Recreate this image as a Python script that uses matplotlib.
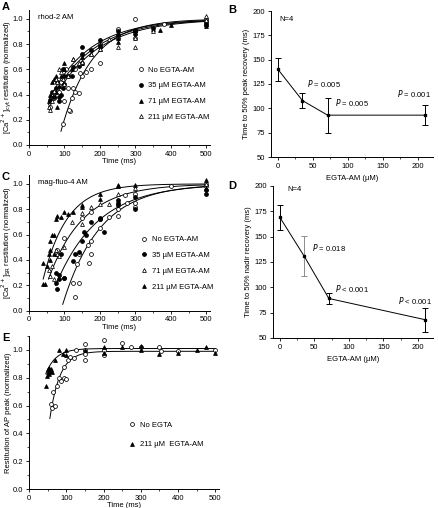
import numpy as np
import matplotlib
matplotlib.use("Agg")
import matplotlib.pyplot as plt
from matplotlib.ticker import MultipleLocator

plt.rcParams['font.family'] = ['Liberation Sans', 'DejaVu Sans']
FS = 5.5
plt.rcParams['font.size'] = FS

# ---- Panel A: rhod-2 AM, [Ca2+]cyt restitution ----
a_none_t = [95, 115, 112, 120, 125, 130, 140, 150, 145, 160, 175, 200, 250, 250, 300, 300, 300, 380, 500, 500,
            100, 90, 85, 105, 150, 200, 70, 60, 110, 130]
a_none_y = [0.17, 0.27, 0.28, 0.37, 0.45, 0.42, 0.41, 0.55, 0.57, 0.58, 0.60, 0.65, 0.92, 0.85, 1.00, 0.90, 0.85, 0.96, 1.00, 0.98,
            0.35, 0.50, 0.42, 0.60, 0.65, 0.80, 0.37, 0.30, 0.45, 0.60]
a_35_t = [60, 65, 75, 80, 85, 85, 90, 95, 100, 100, 110, 120, 125, 140, 150, 150, 175, 200, 200, 250, 250, 300, 300, 350, 500, 500, 70, 95]
a_35_y = [0.36, 0.42, 0.45, 0.50, 0.38, 0.35, 0.40, 0.45, 0.55, 0.48, 0.55, 0.55, 0.62, 0.63, 0.78, 0.72, 0.75, 0.83, 0.78, 0.87, 0.90, 0.88, 0.90, 0.93, 0.95, 0.97, 0.38, 0.60]
a_71_t = [55, 60, 65, 70, 75, 80, 85, 90, 100, 100, 120, 125, 150, 150, 175, 200, 200, 250, 250, 300, 350, 370, 400, 500, 500, 75]
a_71_y = [0.35, 0.40, 0.50, 0.52, 0.55, 0.30, 0.47, 0.55, 0.65, 0.60, 0.60, 0.68, 0.70, 0.65, 0.72, 0.80, 0.76, 0.85, 0.82, 0.91, 0.92, 0.91, 0.95, 0.96, 0.94, 0.42]
a_211_t = [55, 60, 65, 70, 75, 80, 90, 95, 100, 110, 125, 140, 150, 175, 200, 225, 250, 300, 300, 350, 500, 500, 85]
a_211_y = [0.30, 0.28, 0.35, 0.43, 0.52, 0.50, 0.58, 0.52, 0.48, 0.55, 0.68, 0.65, 0.66, 0.72, 0.76, 0.84, 0.78, 0.78, 0.85, 0.90, 1.02, 0.99, 0.60]
# fit parameters (start time, t0, tau)
a_fits = [(90, 80, 87), (58, 5, 115), (55, 9, 120), (55, 13, 125)]

# ---- Panel B ----
b_conc = [0, 35, 71, 211]
b_time = [140, 108, 93, 93]
b_err = [12, 8, 18, 10]
b_pvals = ["= 0.005", "= 0.005", "= 0.001"]

# ---- Panel C: mag-fluo-4 AM, [Ca2+]SR restitution ----
c_none_t = [130, 125, 140, 135, 140, 165, 170, 175, 175, 200, 200, 225, 250, 250, 275, 300, 300, 300, 500, 500,
            100, 75, 80, 150, 175, 270, 400, 100]
c_none_y = [0.11, 0.22, 0.22, 0.37, 0.45, 0.52, 0.38, 0.45, 0.55, 0.65, 0.72, 0.74, 0.75, 0.80, 0.85, 0.85, 0.82, 0.92, 0.98, 1.00,
            0.57, 0.45, 0.48, 0.73, 0.78, 0.91, 0.98, 0.26]
c_35_t = [75, 80, 85, 85, 100, 125, 130, 140, 150, 155, 160, 175, 200, 200, 210, 250, 250, 250, 300, 300, 500, 500, 75, 90]
c_35_y = [0.22, 0.17, 0.28, 0.25, 0.26, 0.39, 0.45, 0.46, 0.55, 0.62, 0.60, 0.70, 0.73, 0.72, 0.62, 0.85, 0.87, 0.83, 0.80, 0.90, 0.92, 0.95, 0.30, 0.45]
c_71_t = [60, 70, 65, 80, 75, 85, 100, 120, 150, 150, 175, 200, 225, 250, 300, 500, 55]
c_71_y = [0.27, 0.25, 0.35, 0.45, 0.48, 0.43, 0.50, 0.70, 0.77, 0.68, 0.82, 0.84, 0.84, 0.92, 0.97, 1.00, 0.32]
c_211_t = [40, 45, 40, 50, 55, 60, 60, 65, 70, 75, 80, 90, 100, 110, 125, 150, 150, 200, 200, 250, 250, 300, 500, 500, 60, 70]
c_211_y = [0.21, 0.21, 0.38, 0.35, 0.45, 0.48, 0.55, 0.60, 0.60, 0.72, 0.75, 0.74, 0.78, 0.76, 0.78, 0.83, 0.82, 0.92, 0.88, 0.98, 0.99, 0.99, 1.03, 0.97, 0.40, 0.45]
c_fits = [(95, 89.6, 105), (75, 48.5, 119), (55, 27, 97.6), (40, 20.6, 67.5)]

# ---- Panel D ----
d_conc = [0, 35, 71, 211]
d_time = [169, 131, 89, 68]
d_err = [12, 20, 5, 12]
d_pvals = ["= 0.018", "< 0.001", "< 0.001"]

# ---- Panel E: AP peak restitution ----
e_none_t = [60, 62, 70, 75, 80, 85, 95, 95, 100, 105, 110, 120, 125, 150, 150, 150, 200, 200, 200, 250, 275, 300, 350, 355, 400, 500, 150, 65]
e_none_y = [0.61, 0.58, 0.60, 0.74, 0.80, 0.78, 0.88, 0.80, 0.79, 0.93, 0.95, 0.94, 1.00, 1.04, 0.93, 0.97, 1.07, 0.96, 1.00, 1.05, 1.02, 1.02, 1.02, 0.99, 0.99, 1.00, 1.00, 0.70]
e_211_t = [45, 48, 50, 52, 55, 58, 60, 62, 70, 80, 90, 100, 100, 150, 200, 200, 250, 300, 300, 350, 400, 450, 475, 500, 55]
e_211_y = [0.74, 0.81, 0.84, 0.86, 0.87, 0.85, 0.86, 0.84, 0.93, 1.00, 0.97, 1.00, 0.96, 1.00, 1.02, 0.98, 1.02, 1.00, 1.03, 0.97, 0.98, 1.00, 1.02, 0.98, 0.83]
# (start, t0, tau, plateau)
e_fits = [(56, 36.6, 27, 0.99), (45, -1.8, 27.3, 1.01)]

W, H = 439, 508
fig = plt.figure(figsize=(W / 100, H / 100), dpi=100)


def px_axes(left, top, right, bottom):
    ax = fig.add_axes([left / W, 1 - bottom / H, (right - left) / W, (bottom - top) / H])
    ax.set_facecolor('none')
    return ax


def style(ax):
    for s in ['top', 'right']:
        ax.spines[s].set_visible(False)
    for s in ['left', 'bottom']:
        ax.spines[s].set_linewidth(0.7)
    ax.tick_params(direction='out', length=2.5, width=0.6, pad=1.5, labelsize=FS)
    ax.tick_params(which='minor', length=1.5, width=0.5)


def fit_curve(ax, start, t0, tau, plateau=1.0):
    t = np.linspace(start, 500, 200)
    ax.plot(t, plateau * (1 - np.exp(-(t - t0) / tau)), color='black', lw=0.7, zorder=1)


mk = dict(ms=2.8, mew=0.55, ls='none', zorder=3)
open_c = dict(marker='o', mfc='white', mec='black', **mk)
fill_c = dict(marker='o', mfc='black', mec='black', **mk)
fill_t = dict(marker='^', mfc='black', mec='black', **mk)
open_t = dict(marker='^', mfc='white', mec='black', **mk)


def time_axes(ax, ylabel, ymax, ylab_x):
    ax.set_xlim(0, 510)
    ax.xaxis.set_major_locator(MultipleLocator(100))
    ax.xaxis.set_minor_locator(MultipleLocator(50))
    ticks = np.arange(0, ymax, 0.2)
    ax.set_yticks(ticks)
    ax.set_yticklabels([f"{v:.1f}" for v in ticks])
    ax.yaxis.set_minor_locator(MultipleLocator(0.1))
    ax.set_ylim(0, ymax)
    ax.set_xlabel("Time (ms)", fontsize=FS, labelpad=0.5)
    ax.set_ylabel(ylabel, fontsize=FS)
    ax.yaxis.set_label_coords(ylab_x, 0.5)
    style(ax)


def trace_panel(ax, series, fits, ylabel, note):
    for f in fits:
        fit_curve(ax, *f)
    for t, y, st, lab in series:
        ax.plot(t, y, label=lab, **st)
    ax.text(0.05, 0.97, note, transform=ax.transAxes, fontsize=FS, va='top')
    time_axes(ax, ylabel, 1.07, -0.085)


# Panel A
axA = px_axes(29, 10, 210, 145)
trace_panel(axA, [(a_none_t, a_none_y, open_c, "No EGTA-AM"),
                  (a_35_t, a_35_y, fill_c, "35 \u00b5M EGTA-AM"),
                  (a_71_t, a_71_y, fill_t, "71 \u00b5M EGTA-AM"),
                  (a_211_t, a_211_y, open_t, "211 \u00b5M EGTA-AM")],
            a_fits, r"[Ca$^{2+}$]$_{\rm cyt}$ restitution (normalized)", "rhod-2 AM")
axA.legend(loc='lower right', bbox_to_anchor=(1.02, 0.15), frameon=False, fontsize=FS,
           handletextpad=0.5, labelspacing=1.1, handlelength=1.0, borderpad=0)

# Panel C
axC = px_axes(29, 175, 210, 310.7)
trace_panel(axC, [(c_none_t, c_none_y, open_c, "No EGTA-AM"),
                  (c_35_t, c_35_y, fill_c, "35 \u00b5M EGTA-AM"),
                  (c_71_t, c_71_y, open_t, "71 \u00b5M EGTA-AM"),
                  (c_211_t, c_211_y, fill_t, "211 \u00b5M EGTA-AM")],
            c_fits, r"[Ca$^{2+}$]$_{\rm SR}$ restitution (normalized)", "mag-fluo-4 AM")
axC.legend(loc='lower right', bbox_to_anchor=(1.04, 0.12), frameon=False, fontsize=FS,
           handletextpad=0.5, labelspacing=1.1, handlelength=1.0, borderpad=0)

# Panel E
axE = px_axes(29, 336, 219, 489)
for st, t0, tau, plat in e_fits:
    fit_curve(axE, st, t0, tau, plat)
axE.plot(e_none_t, e_none_y, label="No EGTA", **open_c)
axE.plot(e_211_t, e_211_y, label="211 \u00b5M  EGTA-AM", **fill_t)
time_axes(axE, "Restitution of AP peak (normalized)", 1.1, -0.09)
axE.legend(loc='lower left', bbox_to_anchor=(0.5, 0.24), frameon=False, fontsize=FS,
           handletextpad=0.6, labelspacing=1.6, handlelength=1.0, borderpad=0)


def summary_panel(ax, conc, vals, errs, ylabel, err_colors, ptexts, ppos, npos):
    ax.plot(conc, vals, color='black', lw=0.7, marker='s', ms=2.0, zorder=3)
    for c, v, e, col in zip(conc, vals, errs, err_colors):
        ax.errorbar(c, v, yerr=e, color=col, lw=0.7, capsize=2, capthick=0.7, zorder=2)
    for txt, (x, y) in zip(ptexts, ppos):
        ax.text(x, y, r"$\it{P}$ " + txt, fontsize=FS, va='center')
    ax.text(npos[0], npos[1], "N=4", fontsize=FS, va='center')
    ax.set_xlim(-10, 222)
    ax.set_ylim(50, 200)
    ax.xaxis.set_major_locator(MultipleLocator(50))
    ax.xaxis.set_minor_locator(MultipleLocator(25))
    ax.yaxis.set_major_locator(MultipleLocator(25))
    ax.set_xlabel("EGTA-AM (\u00b5M)", fontsize=FS, labelpad=4)
    ax.set_ylabel(ylabel, fontsize=FS, labelpad=2)
    style(ax)


axB = px_axes(271, 11, 433, 157)
summary_panel(axB, b_conc, b_time, b_err, "Time to 50% peak recovery (ms)",
              ['black'] * 4, b_pvals, [(42, 126), (82, 106), (171, 115)], (2, 191))

axD = px_axes(273, 186, 433, 338)
summary_panel(axD, d_conc, d_time, d_err, "Time to 50% nadir recovery (ms)",
              ['black', '0.55', 'black', 'black'], d_pvals, [(46, 139), (80, 99), (171, 87)], (11, 197))

for letter, x, y in [("A", 2, 2), ("B", 228, 5), ("C", 2, 172), ("D", 228, 181), ("E", 2, 333)]:
    fig.text(x / W, 1 - y / H, letter, fontsize=8, fontweight='bold', va='top', ha='left')

fig.savefig("out.png", dpi=100)
